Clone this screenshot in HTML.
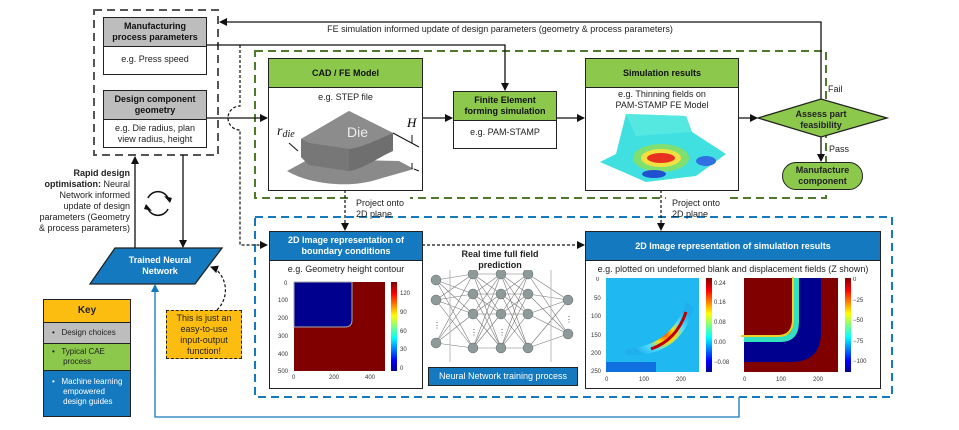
<!DOCTYPE html>
<html><head><meta charset="utf-8"><style>
body{margin:0;width:959px;height:430px;background:#fff;position:relative;overflow:hidden;font-family:"Liberation Sans",Arial,sans-serif;color:#222}
.a{position:absolute;box-sizing:border-box}
.box{position:absolute;box-sizing:border-box;border:1.5px solid #222;background:#fff}
.hd{position:absolute;left:0;right:0;top:0;border-bottom:1.5px solid #222;display:flex;align-items:center;justify-content:center;text-align:center;font-weight:bold;font-size:9px;line-height:11px}
.t{position:absolute;font-size:9px;line-height:11px;text-align:center}
.g{background:#bdbdbd;color:#111}.gr{background:#8cc84b;color:#111}.bl{background:#1479be;color:#fff}
</style></head><body>
<svg class="a" style="left:0;top:0" width="959" height="430">
<defs>
<marker id="ar" markerWidth="8" markerHeight="8" refX="7" refY="4" orient="auto" markerUnits="userSpaceOnUse"><path d="M0,0L8,4L0,8z" fill="#111"/></marker>
<marker id="ab" markerWidth="8" markerHeight="8" refX="7" refY="4" orient="auto" markerUnits="userSpaceOnUse"><path d="M0,0L8,4L0,8z" fill="#1479be"/></marker>
<linearGradient id="jet" x1="0" y1="1" x2="0" y2="0"><stop offset="0" stop-color="#00008f"/><stop offset=".12" stop-color="#0000ff"/><stop offset=".37" stop-color="#00ffff"/><stop offset=".5" stop-color="#7fff7f"/><stop offset=".62" stop-color="#ffff00"/><stop offset=".87" stop-color="#ff0000"/><stop offset="1" stop-color="#800000"/></linearGradient>
</defs>
<rect x="94" y="10" width="124" height="145" fill="none" stroke="#555" stroke-width="2" stroke-dasharray="8,5"/>
<rect x="255" y="51" width="571" height="147" fill="none" stroke="#4e7a2e" stroke-width="2" stroke-dasharray="8,5"/>
<rect x="350" y="196" width="60" height="5" fill="#fff"/><rect x="666" y="196" width="60" height="5" fill="#fff"/>
<rect x="255" y="217" width="637" height="180" fill="none" stroke="#1479be" stroke-width="2" stroke-dasharray="8,5"/>
<polyline points="821,99 821,22 220,22" fill="none" stroke="#111" stroke-width="1.3" marker-end="url(#ar)"/>
<polyline points="206,45 505,45 505,90" fill="none" stroke="#111" stroke-width="1.3" marker-end="url(#ar)"/>
<line x1="206" y1="118" x2="267" y2="118" stroke="#111" stroke-width="1.3" marker-end="url(#ar)"/>
<line x1="422" y1="118" x2="452" y2="118" stroke="#111" stroke-width="1.3" marker-end="url(#ar)"/>
<line x1="556" y1="118" x2="584" y2="118" stroke="#111" stroke-width="1.3" marker-end="url(#ar)"/>
<line x1="738" y1="118" x2="757" y2="118" stroke="#111" stroke-width="1.3" marker-end="url(#ar)"/>
<line x1="821" y1="137" x2="821" y2="161" stroke="#111" stroke-width="1.3" marker-end="url(#ar)"/>
<polygon points="758,118 821,99 887,118 821,137" fill="#8cc84b" stroke="#222" stroke-width="1.3"/>
<path d="M240,45 V106 A12,12 0 0 0 240,130 V245 H267" fill="none" stroke="#111" stroke-width="1.2" stroke-dasharray="3,2" marker-end="url(#ar)"/>
<line x1="345" y1="190" x2="345" y2="230" stroke="#111" stroke-width="1.2" stroke-dasharray="3,2" marker-end="url(#ar)"/>
<line x1="661" y1="190" x2="661" y2="230" stroke="#111" stroke-width="1.2" stroke-dasharray="3,2" marker-end="url(#ar)"/>
<line x1="422" y1="245" x2="584" y2="245" stroke="#111" stroke-width="1.2" stroke-dasharray="3,2" marker-end="url(#ar)"/>
<line x1="135" y1="248" x2="135" y2="157" stroke="#111" stroke-width="1.3" marker-end="url(#ar)"/>
<line x1="183" y1="155" x2="183" y2="247" stroke="#111" stroke-width="1.3" marker-end="url(#ar)"/>
<path d="M148,198 A11,11 0 0 1 168,198" fill="none" stroke="#111" stroke-width="1.5"/>
<path d="M168,209 A11,11 0 0 1 148,209" fill="none" stroke="#111" stroke-width="1.5"/>
<path d="M164,196 l8,2 l-2,5z M152,211 l-8,-2 l2,-5z" fill="#111"/>
<polygon points="115,248 222,248 195,284 90,284" fill="#1479be" stroke="#222" stroke-width="1.3"/>
<path d="M217,310 C232,295 225,272 211,267" fill="none" stroke="#111" stroke-width="1.2" stroke-dasharray="3,2" marker-end="url(#ar)"/>
<polyline points="739,397 739,417 155,417 155,285" fill="none" stroke="#1479be" stroke-width="1.3" marker-end="url(#ab)"/>
</svg>

<div class="box" style="left:103px;top:17px;width:104px;height:58px"><div class="hd g" style="height:28px">Manufacturing<br>process parameters</div><div class="t" style="left:0;right:0;top:36px">e.g. Press speed</div></div>
<div class="box" style="left:103px;top:90px;width:104px;height:58px"><div class="hd g" style="height:28px">Design component<br>geometry</div><div class="t" style="left:0;right:0;top:32px">e.g. Die radius, plan<br>view radius, height</div></div>
<div class="t" style="left:300px;top:24px;width:400px">FE simulation informed update of design parameters (geometry &amp; process parameters)</div>

<div class="box" style="left:268px;top:58px;width:155px;height:133px"><div class="hd gr" style="height:28px">CAD / FE Model</div><div class="t" style="left:0;right:0;top:33px">e.g. STEP file</div>
<svg class="a" style="left:0;top:40px" width="152" height="90">
<path d="M18,72 L40,60 L130,62 L145,70 L110,80 C80,90 40,85 18,72z" fill="#8a8a8a"/>
<path d="M32,40 L80,12 L124,34 L124,52 C110,58 95,70 80,72 L40,66 L32,58z" fill="#6f6f6f"/>
<path d="M32,40 L80,12 L124,34 C110,40 95,48 80,50 L40,44z" fill="#8c8c8c"/>
<path d="M32,40 L40,44 L80,50 L80,72 L40,66 L32,58z" fill="#777"/>
<text x="78" y="38" font-size="14" fill="#eee" font-family="Liberation Sans,sans-serif">Die</text>
<text x="8" y="36" font-size="14" font-style="italic" font-family="Liberation Serif,serif" fill="#111">r<tspan font-size="10" dy="2">die</tspan></text>
<path d="M20,44 l9,8" stroke="#111"/><text x="138" y="28" font-size="13" font-style="italic" font-family="Liberation Serif,serif">H</text>
<path d="M124,34 L150,48 M145,70 L150,72 M143,36 v8 M143,70 v-6" stroke="#111"/>
</svg></div>
<div class="box" style="left:453px;top:91px;width:104px;height:58px"><div class="hd gr" style="height:28px">Finite Element<br>forming simulation</div><div class="t" style="left:0;right:0;top:35px">e.g. PAM-STAMP</div></div>
<div class="box" style="left:585px;top:58px;width:154px;height:133px"><div class="hd gr" style="height:28px">Simulation results</div><div class="t" style="left:0;right:0;top:30px">e.g. Thinning fields on<br>PAM-STAMP FE Model</div>
<svg class="a" style="left:0;top:55px" width="150" height="75">
<path d="M40,0 L100,2 L106,18 L140,40 L110,62 L60,68 L14,48 L30,40z" fill="#40e0e0"/>
<path d="M40,0 L100,2 L106,18 L50,22z" fill="#55e8e0"/>
<ellipse cx="75" cy="44" rx="28" ry="14" fill="#7fe070"/><ellipse cx="75" cy="44" rx="20" ry="9" fill="#f0e040"/><ellipse cx="75" cy="44" rx="14" ry="5" fill="#e83020"/>
<ellipse cx="68" cy="60" rx="12" ry="4" fill="#2050d0"/><ellipse cx="120" cy="47" rx="10" ry="5" fill="#3070e0"/>
</svg></div>
<div class="t" style="left:760px;top:109px;width:122px;font-weight:bold">Assess part<br>feasibility</div>
<div class="t" style="left:828px;top:84px">Fail</div><div class="t" style="left:829px;top:144px">Pass</div>
<div class="a" style="left:782px;top:162px;width:81px;height:28px;border:1.5px solid #222;border-radius:14px;background:#8cc84b;font-size:9px;line-height:11px;font-weight:bold;text-align:center;padding-top:2px">Manufacture<br>component</div>
<div class="t" style="left:356px;top:198px;text-align:left">Project onto<br>2D plane</div>
<div class="t" style="left:672px;top:198px;text-align:left">Project onto<br>2D plane</div>

<div class="t" style="left:10px;top:168px;width:120px;text-align:right;line-height:11px;white-space:nowrap"><b>Rapid design<br>optimisation:</b> Neural<br>Network informed<br>update of design<br>parameters (Geometry<br>&amp; process parameters)</div>
<div class="t" style="left:110px;top:255px;width:100px;color:#fff;font-weight:bold">Trained Neural<br>Network</div>
<div class="a" style="left:43px;top:299px;width:88px;height:118px;border:1.5px solid #222;font-size:8px;line-height:10px">
<div style="background:#fdbd10;height:22px;border-bottom:1px solid #222;text-align:center;font-weight:bold;font-size:10px;line-height:22px">Key</div>
<div style="background:#bdbdbd;height:21px;border-bottom:1px solid #222;padding:5px 0 0 8px;box-sizing:border-box">•&nbsp;&nbsp; Design choices</div>
<div style="background:#8cc84b;height:27px;border-bottom:1px solid #222;padding:3px 0 0 8px;box-sizing:border-box">•&nbsp;&nbsp; Typical CAE<br>&nbsp;&nbsp;&nbsp;&nbsp; process</div>
<div style="background:#1479be;color:#fff;height:45px;padding:6px 0 0 8px;box-sizing:border-box">•&nbsp;&nbsp; Machine learning<br>&nbsp;&nbsp;&nbsp;&nbsp; empowered<br>&nbsp;&nbsp;&nbsp;&nbsp; design guides</div></div>
<div class="a" style="left:166px;top:310px;width:76px;height:49px;background:#fdbd10;border:1.5px dashed #222;font-size:9px;line-height:11px;text-align:center;padding-top:2px">This is just an<br>easy-to-use<br>input-output<br>function!</div>

<div class="box" style="left:269px;top:231px;width:154px;height:158px"><div class="hd bl" style="height:28px">2D Image representation of<br>boundary conditions</div><div class="t" style="left:0;right:0;top:32px">e.g. Geometry height contour</div>
<svg class="a" style="left:0;top:45px" width="152" height="110" font-size="6" font-family="Liberation Sans,sans-serif" fill="#333">
<rect x="24" y="5" width="91" height="89" fill="#800000"/>
<path d="M24,5 H82 V43 Q82,50 75,50 H24z" fill="#00008f" stroke="#aaa" stroke-width="1"/>
<rect x="121" y="5" width="6" height="89" fill="url(#jet)"/>
<text x="14" y="8">0</text><text x="8" y="25">100</text><text x="8" y="43">200</text><text x="8" y="61">300</text><text x="8" y="79">400</text><text x="8" y="96">500</text>
<text x="22" y="102">0</text><text x="59" y="102">200</text><text x="95" y="102">400</text>
<text x="130" y="18">120</text><text x="130" y="37">90</text><text x="130" y="56">60</text><text x="130" y="74">30</text><text x="130" y="93">0</text></svg></div>

<div class="t" style="left:440px;top:249px;width:120px;font-weight:bold">Real time full field<br>prediction</div>
<svg class="a" style="left:428px;top:270px" width="150" height="95">
<g stroke="#777" stroke-width=".6">
<path d="M8,10 L45,4 M8,10 L45,24 M8,10 L45,44 M8,10 L45,78 M8,30 L45,4 M8,30 L45,24 M8,30 L45,44 M8,30 L45,78 M8,73 L45,4 M8,73 L45,24 M8,73 L45,44 M8,73 L45,78"/>
<path d="M45,4 L73,4 M45,4 L73,24 M45,4 L73,44 M45,4 L73,78 M45,24 L73,4 M45,24 L73,24 M45,24 L73,44 M45,24 L73,78 M45,44 L73,4 M45,44 L73,24 M45,44 L73,44 M45,44 L73,78 M45,78 L73,4 M45,78 L73,24 M45,78 L73,44 M45,78 L73,78"/>
<path d="M73,4 L100,4 M73,4 L100,24 M73,4 L100,44 M73,4 L100,78 M73,24 L100,4 M73,24 L100,24 M73,24 L100,44 M73,24 L100,78 M73,44 L100,4 M73,44 L100,24 M73,44 L100,44 M73,44 L100,78 M73,78 L100,4 M73,78 L100,24 M73,78 L100,44 M73,78 L100,78"/>
<path d="M100,4 L140,30 M100,24 L140,30 M100,44 L140,30 M100,78 L140,30 M100,4 L140,64 M100,24 L140,64 M100,44 L140,64 M100,78 L140,64"/>
<path d="M22,0 V92 M123,0 V92" stroke="#bbb" stroke-width="1"/></g>
<g fill="#8d9a9a" stroke="#666" stroke-width=".5"><circle cx="8" cy="10" r="5"/><circle cx="8" cy="30" r="5"/><circle cx="8" cy="73" r="5"/>
<circle cx="45" cy="4" r="5"/><circle cx="45" cy="24" r="5"/><circle cx="45" cy="44" r="5"/><circle cx="45" cy="78" r="5"/>
<circle cx="73" cy="4" r="5"/><circle cx="73" cy="24" r="5"/><circle cx="73" cy="44" r="5"/><circle cx="73" cy="78" r="5"/>
<circle cx="100" cy="4" r="5"/><circle cx="100" cy="24" r="5"/><circle cx="100" cy="44" r="5"/><circle cx="100" cy="78" r="5"/>
<circle cx="140" cy="30" r="5"/><circle cx="140" cy="64" r="5"/></g>
<text x="5" y="58" font-size="8" fill="#444">⋮</text><text x="42" y="65" font-size="8" fill="#444">⋮</text><text x="70" y="65" font-size="8" fill="#444">⋮</text><text x="137" y="52" font-size="8" fill="#444">⋮</text>
</svg>
<div class="a" style="left:428px;top:367px;width:150px;height:19px;background:#1479be;border:1.5px solid #222;color:#fff;font-size:9px;line-height:16px;text-align:center">Neural Network training process</div>

<div class="box" style="left:585px;top:231px;width:296px;height:158px"><div class="hd bl" style="height:28px">2D Image representation of simulation results</div><div class="t" style="left:0;right:0;top:32px">e.g. plotted on undeformed blank and displacement fields (Z shown)</div>
<svg class="a" style="left:0;top:45px" width="294" height="110" font-size="6" font-family="Liberation Sans,sans-serif" fill="#333">
<defs><radialGradient id="hs" cx="0.55" cy="0.6" r="0.5"><stop offset="0" stop-color="#ff3000"/><stop offset=".3" stop-color="#ffe000"/><stop offset=".6" stop-color="#50e0ff"/><stop offset="1" stop-color="#20b0f0"/></radialGradient></defs>
<rect x="20" y="1" width="93" height="94" fill="#20b8f0"/>
<path d="M40,72 C70,70 90,55 100,25 L108,30 C100,60 80,80 40,78z" fill="url(#hs)"/>
<path d="M65,72 C85,65 95,50 100,35" stroke="#c00000" stroke-width="3" fill="none"/>
<rect x="20" y="85" width="50" height="10" fill="#1070e0"/>
<rect x="120" y="1" width="6" height="94" fill="url(#jet)"/>
<text x="10" y="4">0</text><text x="8" y="23">50</text><text x="5" y="41">100</text><text x="5" y="60">150</text><text x="5" y="78">200</text><text x="5" y="96">250</text>
<text x="19" y="104">0</text><text x="53" y="104">100</text><text x="90" y="104">200</text>
<text x="128" y="8">0.24</text><text x="128" y="27">0.16</text><text x="128" y="47">0.08</text><text x="128" y="67">0.00</text><text x="128" y="87">−0.08</text>
<rect x="158" y="1" width="94" height="94" fill="#800000"/>
<path d="M158,62 H195 Q210,62 210,45 V1 H235 V55 Q235,85 205,85 H158z" fill="#00008f"/>
<path d="M158,62 H195 Q210,62 210,45 V1" stroke="#30e0c0" stroke-width="6" fill="none"/>
<path d="M158,62 H195 Q210,62 210,45 V1" stroke="#f0d020" stroke-width="2" fill="none" transform="translate(-3,-3)"/>
<rect x="259" y="1" width="6" height="94" fill="url(#jet)"/>
<text x="157" y="104">0</text><text x="190" y="104">100</text><text x="227" y="104">200</text>
<text x="267" y="4">0</text><text x="267" y="25">−25</text><text x="267" y="45">−50</text><text x="267" y="66">−75</text><text x="267" y="86">−100</text>
</svg></div>
</body></html>
